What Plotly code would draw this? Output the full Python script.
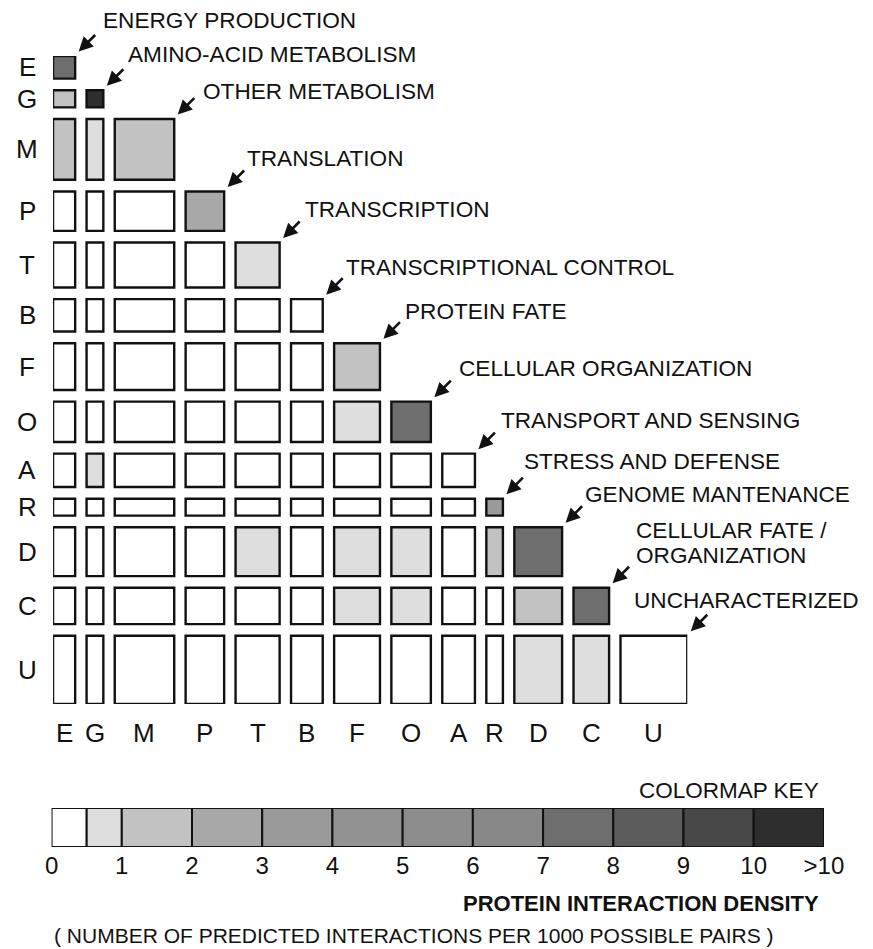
import numpy as np
import plotly.graph_objects as go

# ---------------- data ----------------
categories = ['E', 'G', 'M', 'P', 'T', 'B', 'F', 'O', 'A', 'R', 'D', 'C', 'U']
category_names = ['ENERGY PRODUCTION', 'AMINO-ACID METABOLISM', 'OTHER METABOLISM',
                  'TRANSLATION', 'TRANSCRIPTION', 'TRANSCRIPTIONAL CONTROL',
                  'PROTEIN FATE', 'CELLULAR ORGANIZATION', 'TRANSPORT AND SENSING',
                  'STRESS AND DEFENSE', 'GENOME MANTENANCE',
                  'CELLULAR FATE /\nORGANIZATION', 'UNCHARACTERIZED']
# relative category size (box side length)
category_size = [22.7, 17.2, 61, 39.5, 45.2, 32.5, 47, 40.5, 33.5, 17, 49, 36.5, 68.5]

# protein interaction density, lower triangle (row i, columns 0..i)
density_rows = [
    [7.2],                                               # E
    [1.5, 12.0],                                         # G
    [1.6, 0.8, 1.5],                                     # M
    [0, 0, 0, 2.2],                                      # P
    [0, 0, 0, 0, 0.8],                                   # T
    [0, 0, 0, 0, 0, 0],                                  # B
    [0, 0, 0, 0, 0, 0, 1.7],                             # F
    [0, 0, 0, 0, 0, 0, 0.7, 7.2],                        # O
    [0, 0.8, 0, 0, 0, 0, 0, 0, 0],                       # A
    [0, 0, 0, 0, 0, 0, 0, 0, 0, 3.5],                    # R
    [0, 0, 0, 0, 0.7, 0, 0.7, 0.8, 0, 1.1, 7.5],         # D
    [0, 0, 0, 0, 0, 0, 0.8, 0.9, 0, 0, 1.4, 7.4],        # C
    [0, 0, 0, 0, 0, 0, 0, 0, 0, 0, 0.8, 0.7, 0.2],       # U
]

key_edges = [0, 0.5, 1, 2, 3, 4, 5, 6, 7, 8, 9, 10, 11]
key_colors = ['#ffffff', '#dedede', '#c2c2c2', '#a8a8a8', '#9a9a9a', '#929292',
              '#8c8c8c', '#888888', '#6e6e6e', '#5c5c5c', '#484848', '#2e2e2e']
key_tickvals = [0, 1, 2, 3, 4, 5, 6, 7, 8, 9, 10, 11]
key_ticktext = ['0', '1', '2', '3', '4', '5', '6', '7', '8', '9', '10', '>10']

# ---------------- layout parameters ----------------
W, H = 873, 949
GAP = 11.7
# label offsets (px) from top-right corner of diagonal box: (dx right, dy down)
label_offset = [(26, -35), (23, -36), (27, -28), (21, -33), (23, -33), (21, -32),
                (23, -32), (26, -33), (24, -33), (19, -37), (21, -33), (25, -57), (-55, -35)]

FONT = 'Liberation Sans, Arial, sans-serif'


def color_for(v):
    idx = int(np.searchsorted(key_edges, v, side='right') - 1)
    idx = max(0, min(idx, len(key_colors) - 1))
    return key_colors[idx]


sizes = np.array(category_size, dtype=float)
n = len(sizes)
starts = np.concatenate([[0], np.cumsum(sizes[:-1])]) + np.arange(n) * GAP
ends = starts + sizes
L = ends[-1]
centers = (starts + ends) / 2

fig = go.Figure()
shapes = []
annotations = []

for i in range(n):
    for j, v in enumerate(density_rows[i]):
        shapes.append(dict(type='rect', xref='x', yref='y',
                           x0=starts[j], x1=ends[j], y0=starts[i], y1=ends[i],
                           fillcolor=color_for(v),
                           line=dict(color='#111111', width=2.4), layer='above'))

# invisible hover points for cells
hx, hy, ht = [], [], []
for i in range(n):
    for j, v in enumerate(density_rows[i]):
        hx.append(centers[j]); hy.append(centers[i])
        ht.append(f'{categories[i]}-{categories[j]}: {v}')
fig.add_trace(go.Scatter(x=hx, y=hy, mode='markers', marker=dict(opacity=0),
                         text=ht, hoverinfo='text', showlegend=False,
                         xaxis='x', yaxis='y'))

# row labels and column labels
for i, c in enumerate(categories):
    annotations.append(dict(text=c, xref='paper', x=21 / W, xanchor='center',
                            yref='y', y=centers[i], yanchor='middle', showarrow=False,
                            font=dict(family=FONT, size=26, color='#111')))
    annotations.append(dict(text=c, xref='x', x=centers[i], xanchor='center',
                            yref='paper', y=1 - 733 / H, yanchor='middle', showarrow=False,
                            font=dict(family=FONT, size=26, color='#111')))

# diagonal labels with arrows
for i, name in enumerate(category_names):
    dx, dy = label_offset[i]
    lines = name.split('\n')
    for k, line in enumerate(lines):
        annotations.append(dict(text=line, xref='x', yref='y', x=ends[i], y=starts[i],
                                xanchor='left', yanchor='middle', showarrow=False,
                                xshift=dx, yshift=-(dy + 25 * k),
                                font=dict(family=FONT, size=22.6, color='#111')))
    annotations.append(dict(text='', xref='x', yref='y', x=ends[i], y=starts[i],
                            xshift=3.5, yshift=4.5, showarrow=True, ax=18, ay=-18,
                            arrowhead=2, arrowsize=1.1, arrowwidth=2.6, arrowcolor='#111',
                            standoff=0, startstandoff=0))

# colormap key
for k in range(len(key_colors)):
    shapes.append(dict(type='rect', xref='x2', yref='y2',
                       x0=key_edges[k], x1=key_edges[k + 1], y0=0, y1=1,
                       fillcolor=key_colors[k], line=dict(color='#111', width=2), layer='above'))
fig.add_trace(go.Scatter(x=[0, 11], y=[0, 1], mode='markers', marker=dict(opacity=0),
                         hoverinfo='skip', showlegend=False, xaxis='x2', yaxis='y2'))

annotations.append(dict(text='COLORMAP KEY', xref='paper', x=840 / W, xanchor='right',
                        yref='paper', y=1 - 790 / H, yanchor='middle', showarrow=False,
                        font=dict(family=FONT, size=22.5, color='#111')))
annotations.append(dict(text='<b>PROTEIN INTERACTION DENSITY</b>', xref='paper', x=840 / W,
                        xanchor='right', yref='paper', y=1 - 903 / H, yanchor='middle',
                        showarrow=False, font=dict(family=FONT, size=22, color='#111')))
annotations.append(dict(text='( NUMBER OF PREDICTED INTERACTIONS PER 1000 POSSIBLE PAIRS )',
                        xref='paper', x=46 / W, xanchor='left', yref='paper', y=1 - 935 / H,
                        yanchor='middle', showarrow=False,
                        font=dict(family=FONT, size=21, color='#111')))

fig.update_layout(
    width=W, height=H, margin=dict(l=0, r=0, t=0, b=0),
    paper_bgcolor='white', plot_bgcolor='white',
    xaxis=dict(domain=[47.5 / W, 702 / W], range=[0, L], visible=False, fixedrange=True),
    yaxis=dict(domain=[1 - 704 / H, 1 - 56 / H], range=[L, 0], visible=False, fixedrange=True),
    xaxis2=dict(domain=[46 / W, 843 / W], range=[0, 11], anchor='y2',
                tickvals=key_tickvals, ticktext=key_ticktext, ticks='',
                showgrid=False, zeroline=False, showline=False,
                tickfont=dict(family=FONT, size=24, color='#111'),
                ticklabelstandoff=2, fixedrange=True),
    yaxis2=dict(domain=[1 - 847 / H, 1 - 808 / H], range=[0, 1], anchor='x2',
                visible=False, fixedrange=True),
    shapes=shapes, annotations=annotations, showlegend=False,
)

fig.write_html('out.html',
               config={'displayModeBar': False},
               post_script="document.body.style.margin='0';document.body.style.padding='0';"
                           "document.documentElement.style.overflow='hidden';")
